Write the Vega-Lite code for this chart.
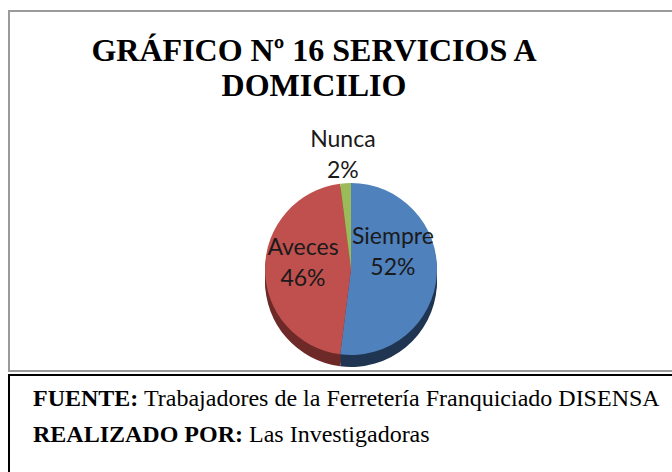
{
  "$schema": "https://vega.github.io/schema/vega-lite/v6.json",
  "background": "white",
  "padding": {"left": 8, "top": 10, "right": 0, "bottom": 0},
  "spacing": 2,
  "config": {"view": {"stroke": null}},
  "datasets": {
    "pie": [
      {"categoria": "Siempre", "porcentaje": 52},
      {"categoria": "Aveces", "porcentaje": 46},
      {"categoria": "Nunca", "porcentaje": 2}
    ],
    "fuente": [
      {"linea": 1, "negrita": "FUENTE:", "texto": "Trabajadores de la Ferretería Franquiciado DISENSA"},
      {"linea": 2, "negrita": "REALIZADO POR:", "texto": "Las Investigadoras"}
    ]
  },
  "vconcat": [
    {
      "width": 664,
      "height": 360,
      "view": {"stroke": "#9a9a9a", "strokeWidth": 2},
      "title": {
        "text": ["GRÁFICO Nº 16 SERVICIOS A", "DOMICILIO"],
        "font": "Liberation Serif",
        "fontSize": 32,
        "fontWeight": "bold",
        "color": "black",
        "anchor": "middle",
        "baseline": "top",
        "lineHeight": 35,
        "offset": -92,
        "dx": -27
      },
      "data": {"name": "pie"},
      "transform": [
        {"stack": "porcentaje", "groupby": [], "sort": [{"field": "porcentaje", "order": "descending"}], "as": ["inicio", "fin"]},
        {"calculate": "(datum.inicio + datum.fin) / 2", "as": "medio"},
        {"calculate": "[datum.categoria, datum.porcentaje + '%']", "as": "etiqueta"}
      ],
      "layer": [
        {
          "mark": {"type": "arc", "radius": 86, "xOffset": 10, "yOffset": 90},
          "encoding": {
            "theta": {"field": "inicio", "type": "quantitative", "scale": {"domain": [0, 100]}},
            "theta2": {"field": "fin"},
            "fill": {"field": "categoria", "type": "nominal", "legend": null,
              "scale": {"domain": ["Siempre", "Aveces", "Nunca"], "range": ["#1f3551", "#6e2a28", "#5f7436"]}}}
        },
        {
          "mark": {"type": "arc", "radius": 86, "xOffset": 10, "yOffset": 87},
          "encoding": {
            "theta": {"field": "inicio", "type": "quantitative"},
            "theta2": {"field": "fin"},
            "fill": {"field": "categoria", "type": "nominal", "legend": null}}
        },
        {
          "mark": {"type": "arc", "radius": 86, "xOffset": 10, "yOffset": 84},
          "encoding": {
            "theta": {"field": "inicio", "type": "quantitative"},
            "theta2": {"field": "fin"},
            "fill": {"field": "categoria", "type": "nominal", "legend": null}}
        },
        {
          "mark": {"type": "arc", "radius": 86, "xOffset": 10, "yOffset": 81},
          "encoding": {
            "theta": {"field": "inicio", "type": "quantitative"},
            "theta2": {"field": "fin"},
            "fill": {"field": "categoria", "type": "nominal", "legend": null}}
        },
        {
          "mark": {"type": "arc", "radius": 86, "xOffset": 10, "yOffset": 78},
          "encoding": {
            "theta": {"field": "inicio", "type": "quantitative"},
            "theta2": {"field": "fin"},
            "color": {"field": "categoria", "type": "nominal", "legend": null,
              "scale": {"domain": ["Siempre", "Aveces", "Nunca"], "range": ["#4f81bd", "#c0504d", "#9bbb59"]}}}
        },
        {
          "transform": [{"filter": "datum.categoria == 'Siempre'"}],
          "mark": {"type": "text", "radius": 42, "xOffset": 10, "yOffset": 78, "dy": -35,
            "font": "Lato", "fontSize": 23, "lineHeight": 31, "color": "#1a1a1a", "baseline": "middle"},
          "encoding": {"theta": {"field": "medio", "type": "quantitative"}, "text": {"field": "etiqueta"}}
        },
        {
          "transform": [{"filter": "datum.categoria == 'Aveces'"}],
          "mark": {"type": "text", "radius": 48, "xOffset": 10, "yOffset": 78, "dy": -21,
            "font": "Lato", "fontSize": 23, "lineHeight": 31, "color": "#1a1a1a", "baseline": "middle"},
          "encoding": {"theta": {"field": "medio", "type": "quantitative"}, "text": {"field": "etiqueta"}}
        },
        {
          "transform": [{"filter": "datum.categoria == 'Nunca'"}],
          "mark": {"type": "text", "radius": 129, "xOffset": 10, "yOffset": 78,
            "font": "Lato", "fontSize": 23, "lineHeight": 31, "color": "#1a1a1a", "baseline": "middle"},
          "encoding": {"theta": {"field": "medio", "type": "quantitative"}, "text": {"field": "etiqueta"}}
        }
      ]
    },
    {
      "width": 664,
      "height": 100,
      "view": {"stroke": "black", "strokeWidth": 2},
      "data": {"name": "fuente"},
      "encoding": {
        "y": {"field": "linea", "type": "ordinal", "axis": null, "scale": {"padding": 0.889}}
      },
      "layer": [
        {
          "mark": {"type": "text", "align": "left", "baseline": "alphabetic", "dx": -308, "dy": -1,
            "font": "Liberation Serif", "fontSize": 24, "fontWeight": "bold", "color": "black"},
          "encoding": {"text": {"field": "negrita"}}
        },
        {
          "transform": [{"filter": "datum.linea == 1"}],
          "mark": {"type": "text", "align": "left", "baseline": "alphabetic", "dx": -197, "dy": -1,
            "font": "Liberation Serif", "fontSize": 24, "color": "black"},
          "encoding": {"text": {"field": "texto"}}
        },
        {
          "transform": [{"filter": "datum.linea == 2"}],
          "mark": {"type": "text", "align": "left", "baseline": "alphabetic", "dx": -92, "dy": -1,
            "font": "Liberation Serif", "fontSize": 24, "color": "black"},
          "encoding": {"text": {"field": "texto"}}
        }
      ]
    }
  ]
}
